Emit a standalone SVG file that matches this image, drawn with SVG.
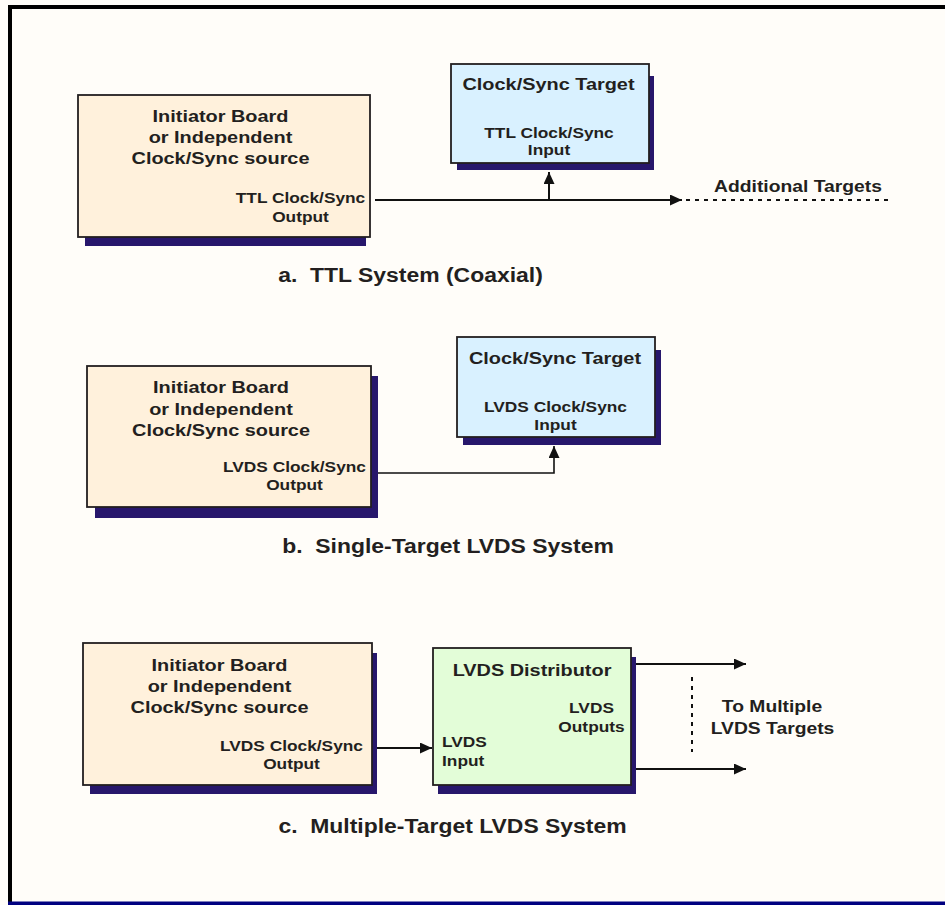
<svg xmlns="http://www.w3.org/2000/svg" width="945" height="905" viewBox="0 0 945 905">
<defs>
<style>
text{font-family:"Liberation Sans",Arial,Helvetica,sans-serif;font-weight:bold;fill:#231f20;text-anchor:middle;white-space:pre}
.big{font-size:17px}
.sm{font-size:14.8px}
.lab{font-size:16.5px}
.ttl{font-size:19.6px}
.st{text-anchor:start}
.box{stroke:#231f20;stroke-width:1.8}
.ini{fill:#fff1dc}
.tgt{fill:#d9f1ff}
.dst{fill:#e3fdd8}
.sh{fill:#27176c}
.ln{stroke:#111;stroke-width:2;fill:none}
.thin{stroke:#111;stroke-width:1.6;fill:none}
.dot{stroke:#111;stroke-width:2;fill:none;stroke-dasharray:4 5}
</style>
<marker id="ah" viewBox="0 0 12 11" refX="12" refY="5.5" markerWidth="12" markerHeight="11" markerUnits="userSpaceOnUse" orient="auto">
<path d="M0,0 L12,5.5 L0,11 z" fill="#111"/>
</marker>
</defs>
<rect x="0" y="0" width="945" height="905" fill="#fffdf9"/>
<g id="frame">
<path d="M10,905 L10,7 L945,7" fill="none" stroke="#000" stroke-width="4"/>
<rect x="8" y="901.5" width="937" height="3.5" fill="#000080"/>
</g>
<g id="connectors">
<path class="ln" d="M375,200 H682" marker-end="url(#ah)"/>
<path class="ln" d="M549,200 V172" marker-end="url(#ah)"/>
<path class="dot" d="M686,200 H893"/>
<path class="thin" d="M372,473 H554 V446" marker-end="url(#ah)"/>
<path class="ln" d="M376,748 H432" marker-end="url(#ah)"/>
<path class="ln" d="M636,664 H746" marker-end="url(#ah)"/>
<path class="ln" d="M636,769 H746" marker-end="url(#ah)"/>
<path class="dot" d="M692,677 V752"/>
</g>
<g id="initiatorA">
<rect class="sh" x="85" y="237" width="281" height="9"/>
<rect class="box ini" x="78" y="95" width="292" height="142"/>
<text class="big" transform="translate(220.5 121.7) scale(1.17 1)">Initiator Board</text>
<text class="big" transform="translate(220.5 143.3) scale(1.17 1)">or Independent</text>
<text class="big" transform="translate(220.5 164.3) scale(1.17 1)">Clock/Sync source</text>
<text class="sm" transform="translate(300.5 203.3) scale(1.17 1)">TTL Clock/Sync</text>
<text class="sm" transform="translate(300.5 222.3) scale(1.17 1)">Output</text>
</g>
<g id="targetA">
<rect class="sh" x="457" y="76" width="197" height="94"/>
<rect class="box tgt" x="451" y="64" width="198" height="99"/>
<text class="big" transform="translate(548.5 90) scale(1.17 1)">Clock/Sync Target</text>
<text class="sm" transform="translate(549 137.7) scale(1.17 1)">TTL Clock/Sync</text>
<text class="sm" transform="translate(549 154.5) scale(1.17 1)">Input</text>
</g>
<text class="lab" transform="translate(798 191.7) scale(1.17 1)">Additional Targets</text>
<text class="ttl" transform="translate(410.5 281.5) scale(1.17 1)">a.  TTL System (Coaxial)</text>
<g id="initiatorB">
<rect class="sh" x="95" y="376" width="283" height="142"/>
<rect class="box ini" x="87" y="366" width="284" height="141"/>
<text class="big" transform="translate(221 393.3) scale(1.17 1)">Initiator Board</text>
<text class="big" transform="translate(221 414.5) scale(1.17 1)">or Independent</text>
<text class="big" transform="translate(221 436) scale(1.17 1)">Clock/Sync source</text>
<text class="sm" transform="translate(294.5 471.7) scale(1.17 1)">LVDS Clock/Sync</text>
<text class="sm" transform="translate(294.5 490) scale(1.17 1)">Output</text>
</g>
<g id="targetB">
<rect class="sh" x="463" y="350" width="198" height="95"/>
<rect class="box tgt" x="457" y="337" width="198" height="100"/>
<text class="big" transform="translate(555 364) scale(1.17 1)">Clock/Sync Target</text>
<text class="sm" transform="translate(555.5 411.7) scale(1.17 1)">LVDS Clock/Sync</text>
<text class="sm" transform="translate(555.5 430) scale(1.17 1)">Input</text>
</g>
<text class="ttl" transform="translate(448 553) scale(1.17 1)">b.  Single-Target LVDS System</text>
<g id="initiatorC">
<rect class="sh" x="90" y="653" width="287" height="141"/>
<rect class="box ini" x="83" y="643" width="289" height="142"/>
<text class="big" transform="translate(219.5 670.7) scale(1.17 1)">Initiator Board</text>
<text class="big" transform="translate(219.5 692.3) scale(1.17 1)">or Independent</text>
<text class="big" transform="translate(219.5 713) scale(1.17 1)">Clock/Sync source</text>
<text class="sm" transform="translate(291.5 750.5) scale(1.17 1)">LVDS Clock/Sync</text>
<text class="sm" transform="translate(291.5 768.5) scale(1.17 1)">Output</text>
</g>
<g id="distributor">
<rect class="sh" x="438" y="657" width="198" height="137"/>
<rect class="box dst" x="433" y="648" width="198" height="137"/>
<text class="big" transform="translate(532 676) scale(1.17 1)">LVDS Distributor</text>
<text class="sm" transform="translate(591.5 713) scale(1.17 1)">LVDS</text>
<text class="sm" transform="translate(591.5 731.5) scale(1.17 1)">Outputs</text>
<text class="sm st" transform="translate(442 747) scale(1.17 1)">LVDS</text>
<text class="sm st" transform="translate(442 765.5) scale(1.17 1)">Input</text>
</g>
<text class="lab" transform="translate(772 712) scale(1.17 1)">To Multiple</text>
<text class="lab" transform="translate(772.5 734) scale(1.17 1)">LVDS Targets</text>
<text class="ttl" transform="translate(452.5 833) scale(1.17 1)">c.  Multiple-Target LVDS System</text>
</svg>
